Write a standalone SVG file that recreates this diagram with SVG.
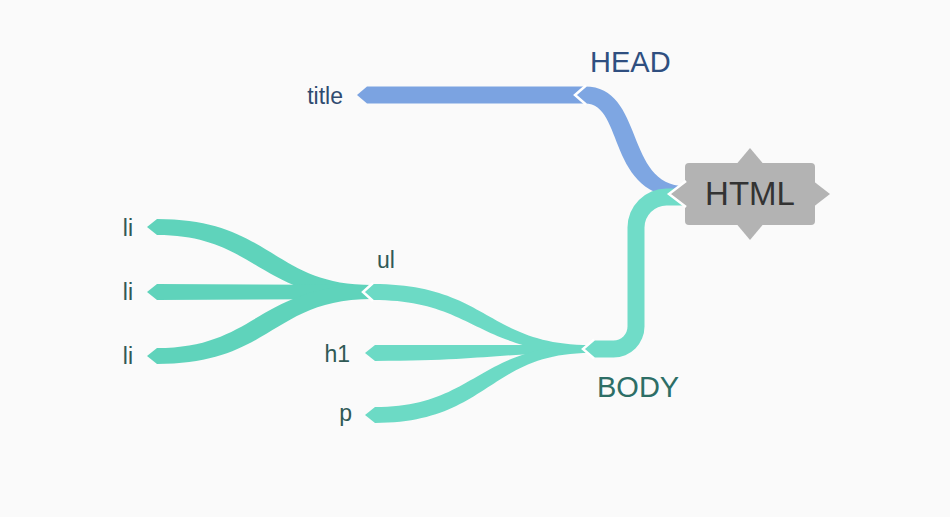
<svg xmlns="http://www.w3.org/2000/svg" width="950" height="517" viewBox="0 0 950 517">
<style>
.lbl{font-family:"Liberation Sans",Arial,sans-serif;font-size:23px}
.g{fill:#2f5955}
.b{fill:#2f4b70}
.big{font-family:"Liberation Sans",Arial,sans-serif;font-size:29px}
.notch{fill:none;stroke:#ffffff;stroke-width:2.5;stroke-linejoin:miter}
</style>
<rect x="0" y="0" width="950" height="517" fill="#fafafa"/>
<g id="connectors">
  <g id="ul-li">
    <path d="M147,227 L157,219 C272,219 272,285 372,285 L372,299 C257,299 257,235 157,235 Z" fill="#5fd3bb"/>
    <path d="M147,292 L157,284 L372,285 L372,299 L157,300 Z" fill="#5fd3bb"/>
    <path d="M147,356 L157,348 C257,348 257,285 372,285 L372,299 C272,299 272,364 157,364 Z" fill="#5fd3bb"/>
  </g>
  <g id="body-children">
    <path d="M363,292 L373,284 C487.5,284 487.5,345 590,345 L590,353 C475.5,353 475.5,300 373,300 Z" fill="#6cdac5"/>
    <polyline class="notch" points="373,283 363,292 373,301"/>
    <path d="M365,353 L375,345 C476.5,345 476.5,345 590,345 L590,353 C488.5,353 488.5,361 375,361 Z" fill="#6cdac5"/>
    <path d="M365,415 L375,407 C476.5,407 476.5,345 590,345 L590,353 C488.5,353 488.5,423 375,423 Z" fill="#6cdac5"/>
  </g>
  <g id="head-title">
    <path d="M357,95 L367,86.5 L585,86.5 L585,103.5 L367,103.5 Z" fill="#7ba3e1"/>
  </g>
  <g id="html-head">
    <path d="M575,95 L585,86.5 C644.9,86.5 624.4,186 685,186 L692,186 L692,198 L685,198 C605.6,198 625.1,103.5 585,103.5 Z" fill="#7ea6e2"/>
    <polyline class="notch" points="586,85.5 575,95 586,104.5"/>
  </g>
  <g id="html-body">
    <path d="M583,349 L593,340.5 H613.5 A14,14 0 0 0 627.5,326.5 V227.5 A39,39 0 0 1 666.5,188.5 H692 V205.5 H666.5 A22,22 0 0 0 644.5,227.5 V326.5 A31,31 0 0 1 613.5,357.5 H593 Z" fill="#70dcc8"/>
    <polyline class="notch" points="594,339.5 583,349 594,358.5"/>
  </g>
</g>
<g id="node-html">
  <rect x="685" y="163" width="130" height="62" rx="4" fill="#b3b3b3"/>
  <polygon points="737,163.5 750,148 763,163.5" fill="#b3b3b3"/>
  <polygon points="737,224.5 750,240 763,224.5" fill="#b3b3b3"/>
  <polygon points="685.5,182 669,194 685.5,206" fill="#b3b3b3"/>
  <polygon points="814.5,182 830,194 814.5,206" fill="#b3b3b3"/>
  <polyline class="notch" points="686,181 669,194 686,207"/>
  <text x="750" y="205" text-anchor="middle" font-family="Liberation Sans, Arial, sans-serif" font-size="33" fill="#333333">HTML</text>
</g>
<g id="node-head"><text class="big" x="590" y="72" fill="#2f4f80">HEAD</text></g>
<g id="node-body"><text class="big" x="597" y="397" fill="#2d6e66">BODY</text></g>
<g id="node-title"><text class="lbl b" x="343" y="104" text-anchor="end">title</text></g>
<g id="node-ul"><text class="lbl g" x="377" y="268">ul</text></g>
<g id="node-h1"><text class="lbl g" x="350" y="362" text-anchor="end">h1</text></g>
<g id="node-p"><text class="lbl g" x="352" y="421" text-anchor="end">p</text></g>
<g id="node-li1"><text class="lbl g" x="133" y="236" text-anchor="end">li</text></g>
<g id="node-li2"><text class="lbl g" x="133" y="300" text-anchor="end">li</text></g>
<g id="node-li3"><text class="lbl g" x="133" y="364" text-anchor="end">li</text></g>
</svg>
